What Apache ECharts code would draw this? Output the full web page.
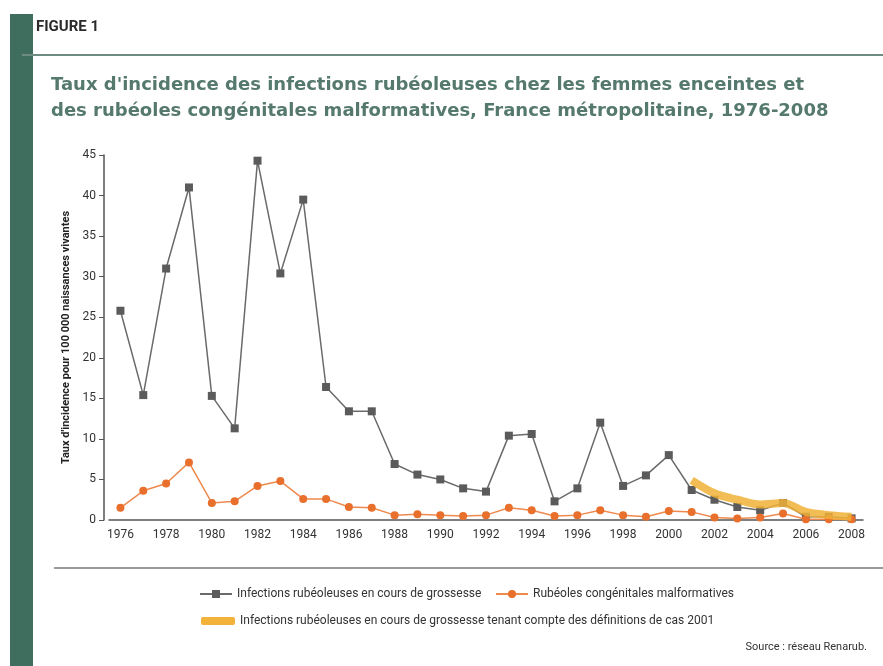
<!DOCTYPE html>
<html>
<head>
<meta charset="utf-8">
<script src="https://cdn.jsdelivr.net/npm/echarts@6/dist/echarts.min.js"></script>
<style>
html,body{margin:0;padding:0;background:#fff;}
#chart{width:883px;height:666px;}
</style>
</head>
<body>
<div id="chart"></div>
<script>
var years = ['1976','1977','1978','1979','1980','1981','1982','1983','1984','1985','1986','1987','1988','1989','1990','1991','1992','1993','1994','1995','1996','1997','1998','1999','2000','2001','2002','2003','2004','2005','2006','2007','2008'];
var infections = [25.8,15.4,31.0,41.0,15.3,11.3,44.3,30.4,39.5,16.4,13.4,13.4,6.9,5.6,5.0,3.9,3.5,10.4,10.6,2.3,3.9,12.0,4.2,5.5,8.0,3.7,2.5,1.6,1.2,2.1,0.4,0.4,0.2];
var rubeoles = [1.5,3.6,4.5,7.1,2.1,2.3,4.2,4.8,2.6,2.6,1.6,1.5,0.6,0.7,0.6,0.5,0.6,1.5,1.2,0.5,0.6,1.2,0.6,0.4,1.1,1.0,0.3,0.2,0.3,0.8,0.1,0.1,0.1];
var infections2001 = [null,null,null,null,null,null,null,null,null,null,null,null,null,null,null,null,null,null,null,null,null,null,null,null,null,4.9,3.3,2.5,1.9,2.1,1.0,0.6,0.4];
var yTicks = [0,5,10,15,20,25,30,35,40,45];

var names = ['Infections rubéoleuses en cours de grossesse','Rubéoles congénitales malformatives','Infections rubéoleuses en cours de grossesse tenant compte des définitions de cas 2001'];
var condensed = '"Liberation Sans Narrow", "Roboto", sans-serif';
var legText = {fontFamily:'Roboto', fontSize:12, color:'#333'};

var chart = echarts.init(document.getElementById('chart'));
chart.setOption({
  backgroundColor: '#fff',
  animation: false,
  graphic: [
    {type:'rect', shape:{x:10,y:14,width:23,height:652}, style:{fill:'#3f6d5e'}},
    {type:'text', left:36, top:20, style:{text:'FIGURE 1', font:'bold 15px Roboto, sans-serif', fill:'#2a2a2a'}},
    {type:'line', shape:{x1:22,y1:55,x2:883,y2:55}, style:{stroke:'#6f8c82', lineWidth:2}},
    {type:'text', left:51, top:72, style:{text:"Taux d'incidence des infections rubéoleuses chez les femmes enceintes et\ndes rubéoles congénitales malformatives, France métropolitaine, 1976-2008", font:'bold 18px "DejaVu Sans", sans-serif', fill:'#56796d', lineHeight:26}},
    {type:'line', shape:{x1:54,y1:568,x2:883,y2:568}, style:{stroke:'#9a9a9a', lineWidth:2}},
    {type:'text', right:16, top:642, style:{text:'Source : réseau Renarub.', font:'11px Roboto, sans-serif', fill:'#333'}}
  ],
  grid: {left:109, right:20, top:155, bottom:146},
  legend: [
    {data:[names[0]], top:583, left:194, itemWidth:32, itemHeight:10, textStyle:legText},
    {data:[names[1]], top:583, left:490, itemWidth:32, itemHeight:10, textStyle:legText},
    {data:[{name:names[2], icon:'roundRect'}], top:610, left:196, itemWidth:34, itemHeight:8, textStyle:legText}
  ],
  xAxis: {
    type:'category', data:years, boundaryGap:true,
    axisLine:{lineStyle:{color:'#555', width:1.5}},
    axisTick:{alignWithLabel:true, interval:0, length:5, lineStyle:{color:'#555'}},
    axisLabel:{interval:1, fontFamily:condensed, fontSize:12, color:'#333', margin:9}
  },
  yAxis: {
    type:'value', min:yTicks[0], max:yTicks[yTicks.length-1], interval:5, offset:5,
    name:"Taux d'incidence pour 100 000 naissances vivantes",
    nameLocation:'middle', nameGap:29, nameRotate:90,
    nameTextStyle:{fontFamily:condensed, fontSize:11, color:'#222', fontWeight:'bold'},
    splitLine:{show:false},
    axisLine:{show:true, lineStyle:{color:'#555', width:1.5}},
    axisTick:{show:true, length:5, lineStyle:{color:'#555'}},
    axisLabel:{fontFamily:condensed, fontSize:12, color:'#333', margin:8}
  },
  series: [
    {name:names[0], type:'line', data:infections, symbol:'rect', symbolSize:8,
     itemStyle:{color:'#5b5b5b'}, lineStyle:{color:'#6a6a6a', width:1.5}, z:3},
    {name:names[1], type:'line', data:rubeoles, symbol:'circle', symbolSize:8,
     itemStyle:{color:'#e86f2c'}, lineStyle:{color:'#ef8a4e', width:1.5}, z:4},
    {name:names[2], type:'line', data:infections2001, symbol:'none', smooth:0.3,
     itemStyle:{color:'#f3b23a'}, lineStyle:{color:'#f1b237', width:8, opacity:0.85}, z:5}
  ]
});
</script>
</body>
</html>
